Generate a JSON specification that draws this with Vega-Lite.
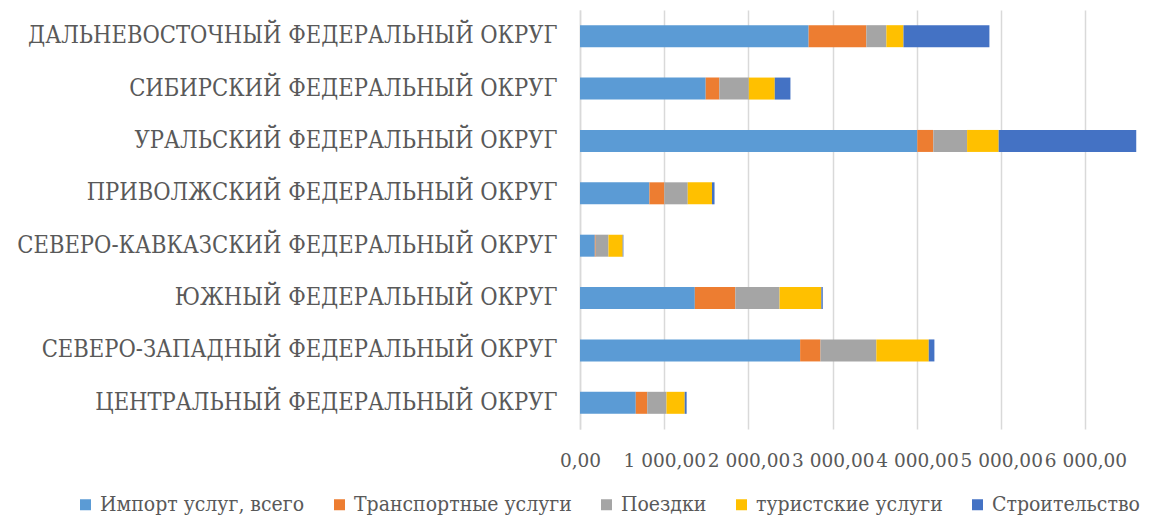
{
  "$schema": "https://vega.github.io/schema/vega-lite/v6.json",
  "autosize": "none",
  "width": 572,
  "height": 419,
  "padding": {"left": 580, "top": 10, "right": 0, "bottom": 88},
  "background": "white",
  "config": {
    "view": {"stroke": null}
  },
  "data": {
    "values": [
      {"region": "ДАЛЬНЕВОСТОЧНЫЙ ФЕДЕРАЛЬНЫЙ ОКРУГ", "series": "Импорт услуг, всего", "value": 2714},
      {"region": "ДАЛЬНЕВОСТОЧНЫЙ ФЕДЕРАЛЬНЫЙ ОКРУГ", "series": "Транспортные услуги", "value": 685},
      {"region": "ДАЛЬНЕВОСТОЧНЫЙ ФЕДЕРАЛЬНЫЙ ОКРУГ", "series": "Поездки", "value": 238},
      {"region": "ДАЛЬНЕВОСТОЧНЫЙ ФЕДЕРАЛЬНЫЙ ОКРУГ", "series": "туристские услуги", "value": 203},
      {"region": "ДАЛЬНЕВОСТОЧНЫЙ ФЕДЕРАЛЬНЫЙ ОКРУГ", "series": "Строительство", "value": 1020},
      {"region": "СИБИРСКИЙ ФЕДЕРАЛЬНЫЙ ОКРУГ", "series": "Импорт услуг, всего", "value": 1492},
      {"region": "СИБИРСКИЙ ФЕДЕРАЛЬНЫЙ ОКРУГ", "series": "Транспортные услуги", "value": 162},
      {"region": "СИБИРСКИЙ ФЕДЕРАЛЬНЫЙ ОКРУГ", "series": "Поездки", "value": 350},
      {"region": "СИБИРСКИЙ ФЕДЕРАЛЬНЫЙ ОКРУГ", "series": "туристские услуги", "value": 308},
      {"region": "СИБИРСКИЙ ФЕДЕРАЛЬНЫЙ ОКРУГ", "series": "Строительство", "value": 186},
      {"region": "УРАЛЬСКИЙ ФЕДЕРАЛЬНЫЙ ОКРУГ", "series": "Импорт услуг, всего", "value": 4004},
      {"region": "УРАЛЬСКИЙ ФЕДЕРАЛЬНЫЙ ОКРУГ", "series": "Транспортные услуги", "value": 190},
      {"region": "УРАЛЬСКИЙ ФЕДЕРАЛЬНЫЙ ОКРУГ", "series": "Поездки", "value": 401},
      {"region": "УРАЛЬСКИЙ ФЕДЕРАЛЬНЫЙ ОКРУГ", "series": "туристские услуги", "value": 375},
      {"region": "УРАЛЬСКИЙ ФЕДЕРАЛЬНЫЙ ОКРУГ", "series": "Строительство", "value": 1633},
      {"region": "ПРИВОЛЖСКИЙ ФЕДЕРАЛЬНЫЙ ОКРУГ", "series": "Импорт услуг, всего", "value": 824},
      {"region": "ПРИВОЛЖСКИЙ ФЕДЕРАЛЬНЫЙ ОКРУГ", "series": "Транспортные услуги", "value": 177},
      {"region": "ПРИВОЛЖСКИЙ ФЕДЕРАЛЬНЫЙ ОКРУГ", "series": "Поездки", "value": 278},
      {"region": "ПРИВОЛЖСКИЙ ФЕДЕРАЛЬНЫЙ ОКРУГ", "series": "туристские услуги", "value": 288},
      {"region": "ПРИВОЛЖСКИЙ ФЕДЕРАЛЬНЫЙ ОКРУГ", "series": "Строительство", "value": 30},
      {"region": "СЕВЕРО-КАВКАЗСКИЙ ФЕДЕРАЛЬНЫЙ ОКРУГ", "series": "Импорт услуг, всего", "value": 176},
      {"region": "СЕВЕРО-КАВКАЗСКИЙ ФЕДЕРАЛЬНЫЙ ОКРУГ", "series": "Транспортные услуги", "value": 10},
      {"region": "СЕВЕРО-КАВКАЗСКИЙ ФЕДЕРАЛЬНЫЙ ОКРУГ", "series": "Поездки", "value": 152},
      {"region": "СЕВЕРО-КАВКАЗСКИЙ ФЕДЕРАЛЬНЫЙ ОКРУГ", "series": "туристские услуги", "value": 169},
      {"region": "СЕВЕРО-КАВКАЗСКИЙ ФЕДЕРАЛЬНЫЙ ОКРУГ", "series": "Строительство", "value": 8},
      {"region": "ЮЖНЫЙ ФЕДЕРАЛЬНЫЙ ОКРУГ", "series": "Импорт услуг, всего", "value": 1363},
      {"region": "ЮЖНЫЙ ФЕДЕРАЛЬНЫЙ ОКРУГ", "series": "Транспортные услуги", "value": 481},
      {"region": "ЮЖНЫЙ ФЕДЕРАЛЬНЫЙ ОКРУГ", "series": "Поездки", "value": 525},
      {"region": "ЮЖНЫЙ ФЕДЕРАЛЬНЫЙ ОКРУГ", "series": "туристские услуги", "value": 496},
      {"region": "ЮЖНЫЙ ФЕДЕРАЛЬНЫЙ ОКРУГ", "series": "Строительство", "value": 17},
      {"region": "СЕВЕРО-ЗАПАДНЫЙ ФЕДЕРАЛЬНЫЙ ОКРУГ", "series": "Импорт услуг, всего", "value": 2613},
      {"region": "СЕВЕРО-ЗАПАДНЫЙ ФЕДЕРАЛЬНЫЙ ОКРУГ", "series": "Транспортные услуги", "value": 242},
      {"region": "СЕВЕРО-ЗАПАДНЫЙ ФЕДЕРАЛЬНЫЙ ОКРУГ", "series": "Поездки", "value": 663},
      {"region": "СЕВЕРО-ЗАПАДНЫЙ ФЕДЕРАЛЬНЫЙ ОКРУГ", "series": "туристские услуги", "value": 622},
      {"region": "СЕВЕРО-ЗАПАДНЫЙ ФЕДЕРАЛЬНЫЙ ОКРУГ", "series": "Строительство", "value": 67},
      {"region": "ЦЕНТРАЛЬНЫЙ ФЕДЕРАЛЬНЫЙ ОКРУГ", "series": "Импорт услуг, всего", "value": 662},
      {"region": "ЦЕНТРАЛЬНЫЙ ФЕДЕРАЛЬНЫЙ ОКРУГ", "series": "Транспортные услуги", "value": 136},
      {"region": "ЦЕНТРАЛЬНЫЙ ФЕДЕРАЛЬНЫЙ ОКРУГ", "series": "Поездки", "value": 229},
      {"region": "ЦЕНТРАЛЬНЫЙ ФЕДЕРАЛЬНЫЙ ОКРУГ", "series": "туристские услуги", "value": 216},
      {"region": "ЦЕНТРАЛЬНЫЙ ФЕДЕРАЛЬНЫЙ ОКРУГ", "series": "Строительство", "value": 23}
    ]
  },
  "transform": [
    {"calculate": "indexof(['Импорт услуг, всего', 'Транспортные услуги', 'Поездки', 'туристские услуги', 'Строительство'], datum.series)", "as": "ord"}
  ],
  "mark": {"type": "bar"},
  "encoding": {
    "y": {
      "field": "region",
      "type": "nominal",
      "sort": [
        "ДАЛЬНЕВОСТОЧНЫЙ ФЕДЕРАЛЬНЫЙ ОКРУГ",
        "СИБИРСКИЙ ФЕДЕРАЛЬНЫЙ ОКРУГ",
        "УРАЛЬСКИЙ ФЕДЕРАЛЬНЫЙ ОКРУГ",
        "ПРИВОЛЖСКИЙ ФЕДЕРАЛЬНЫЙ ОКРУГ",
        "СЕВЕРО-КАВКАЗСКИЙ ФЕДЕРАЛЬНЫЙ ОКРУГ",
        "ЮЖНЫЙ ФЕДЕРАЛЬНЫЙ ОКРУГ",
        "СЕВЕРО-ЗАПАДНЫЙ ФЕДЕРАЛЬНЫЙ ОКРУГ",
        "ЦЕНТРАЛЬНЫЙ ФЕДЕРАЛЬНЫЙ ОКРУГ"
      ],
      "scale": {"paddingInner": 0.58, "paddingOuter": 0.29},
      "axis": {
        "title": null,
        "ticks": false,
        "domain": true,
        "domainColor": "#d9d9d9",
        "domainWidth": 1.5,
        "labelFont": "DejaVu Serif Condensed",
        "labelFontSize": 23.5,
        "labelColor": "#595959",
        "labelPadding": 23,
        "labelLimit": 0
      }
    },
    "x": {
      "field": "value",
      "type": "quantitative",
      "stack": "zero",
      "scale": {"domain": [0, 6790], "nice": false},
      "axis": {
        "title": null,
        "values": [0, 1000, 2000, 3000, 4000, 5000, 6000],
        "labelExpr": "replace(replace(format(datum.value, ',.2f'), ',', ' '), '.', ',')",
        "labelOverlap": false,
        "labelFlush": false,
        "domain": false,
        "ticks": false,
        "grid": true,
        "gridColor": "#d9d9d9",
        "gridWidth": 1.5,
        "labelFont": "DejaVu Serif",
        "labelFontSize": 18.5,
        "labelColor": "#595959",
        "labelPadding": 22
      }
    },
    "order": {"field": "ord", "type": "quantitative", "sort": "ascending"},
    "color": {
      "field": "series",
      "type": "nominal",
      "scale": {
        "domain": ["Импорт услуг, всего", "Транспортные услуги", "Поездки", "туристские услуги", "Строительство"],
        "range": ["#5B9BD5", "#ED7D31", "#A5A5A5", "#FFC000", "#4472C4"]
      },
      "legend": {
        "title": null,
        "orient": "none",
        "direction": "horizontal",
        "columns": 5,
        "legendX": -505,
        "legendY": 484,
        "symbolType": "square",
        "symbolSize": 121,
        "symbolStrokeWidth": 0,
        "labelFont": "DejaVu Serif Condensed",
        "labelFontSize": 21,
        "labelColor": "#595959",
        "labelOffset": 4,
        "labelLimit": 0,
        "columnPadding": 24
      }
    }
  }
}
